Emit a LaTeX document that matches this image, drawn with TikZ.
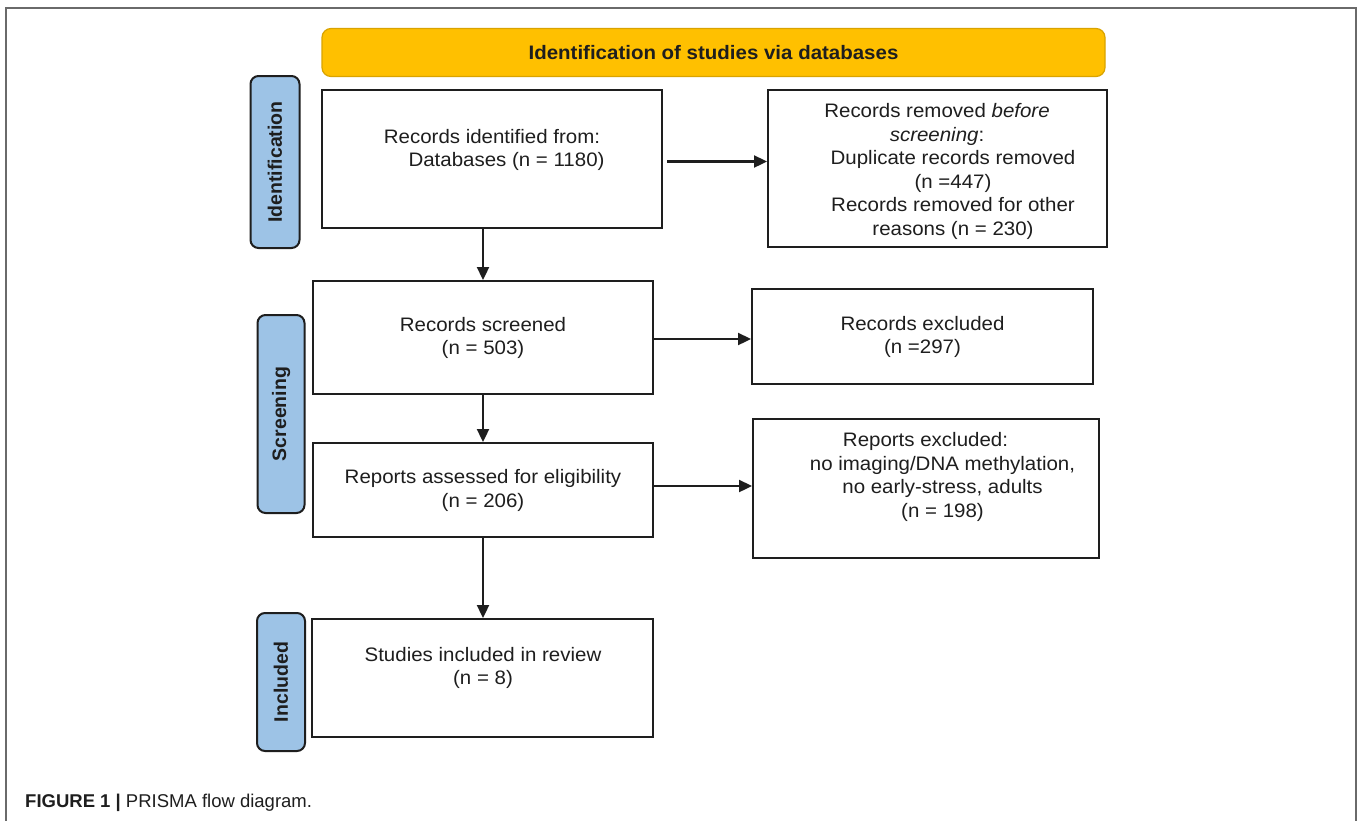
\documentclass[tikz,border=0pt]{standalone}
\usepackage{fontspec}
\setmainfont{Liberation Sans}
\newfontfamily\boxfont[FakeStretch=1.05]{Liberation Sans}
\newfontfamily\tagfont{Liberation Sans}
\usetikzlibrary{arrows.meta}
\definecolor{tagblue}{HTML}{9DC3E6}
\definecolor{headgold}{HTML}{FFC000}
\definecolor{headline}{HTML}{D9A300}
\definecolor{framegray}{HTML}{6A6A6A}
\definecolor{ink}{HTML}{1E1E1E}
\tikzset{
  boxtxt/.style={font=\boxfont\fontsize{19.5}{23.5}\selectfont, text=ink, align=center, inner sep=0pt},
  flowbox/.style={draw=ink, line width=2pt, fill=white, rectangle, inner sep=0pt},
  tagbox/.style={draw=ink, line width=2pt, fill=tagblue, rounded corners=8pt, rotate=90,
     font=\tagfont\bfseries\fontsize{19.5}{22}\selectfont, text=ink, inner sep=0pt},
  headbox/.style={draw=headline, line width=1.2pt, fill=headgold, rounded corners=9pt,
     font=\boxfont\bfseries\fontsize{19.5}{22}\selectfont, text=ink, inner sep=0pt},
  arr/.style={draw=ink, line width=2.3pt, -{Triangle[length=13pt,width=12pt]}}
}
\begin{document}
\begin{tikzpicture}[x=1pt,y=-1pt]
\useasboundingbox (0,0) rectangle (1360,820);
\fill[white] (0,0) rectangle (1360,820);
% outer frame
\draw[framegray, line width=1.3pt] (6,830) -- (6,8) -- (1356,8) -- (1356,830);

% header
\node[headbox, minimum width=783pt, minimum height=48pt] (hdr) at (713.5,52.5) {Identification of studies via databases};

% side tags
\node[tagbox, minimum width=172pt, minimum height=49pt] (tagid) at (275,162) {Identification};
\node[tagbox, minimum width=198pt, minimum height=47pt] (tagsc) at (281,414) {Screening};
\node[tagbox, minimum width=138pt, minimum height=48pt] (taginc) at (281,682) {Included};

% boxes
\node[flowbox, minimum width=340pt, minimum height=138pt] (b1) at (492,159) {};
\node[flowbox, minimum width=339pt, minimum height=157pt] (r1) at (937.5,168.5) {};
\node[flowbox, minimum width=340pt, minimum height=113pt] (b2) at (483,337.5) {};
\node[flowbox, minimum width=341pt, minimum height=95pt] (r2) at (922.5,336.5) {};
\node[flowbox, minimum width=340pt, minimum height=94pt] (b3) at (483,490) {};
\node[flowbox, minimum width=346pt, minimum height=139pt] (r3) at (926,488.5) {};
\node[flowbox, minimum width=341pt, minimum height=118pt] (b4) at (482.5,678) {};

% texts
\node[boxtxt] (t1) at (492,150) {Records identified from:\\\hspace*{29pt}Databases (n = 1180)};
\node[boxtxt] (tr1) at (945,171.5) {\hspace*{-16pt}Records removed \textit{before}\\\hspace*{-16pt}\textit{screening}:\\\hspace*{16pt}Duplicate records removed\\\hspace*{16pt}(n =447)\\\hspace*{16pt}Records removed for other\\\hspace*{16pt}reasons (n = 230)};
\node[boxtxt] (t2) at (483,338) {Records screened\\(n = 503)};
\node[boxtxt] (tr2) at (922.5,337) {Records excluded\\(n =297)};
\node[boxtxt] (t3) at (483,490.5) {Reports assessed for eligibility\\(n = 206)};
\node[boxtxt] (tr3) at (934,477) {\hspace*{-17pt}Reports excluded:\\\hspace*{17pt}no imaging/DNA methylation,\\\hspace*{17pt}no early-stress, adults\\\hspace*{17pt}(n = 198)};
\node[boxtxt] (t4) at (483,668) {Studies included in review\\(n = 8)};

% arrows
\draw[arr] ([xshift=4pt,yshift=-2.5pt]b1.east) -- ([yshift=-2.5pt]b1.east -| r1.west);
\draw[arr] ([yshift=-1.5pt]b2.east) -- ([yshift=-1.5pt]b2.east -| r2.west);
\draw[arr] ([yshift=4pt]b3.east) -- ([yshift=4pt]b3.east -| r3.west);
\draw[arr] (b1.south -| b2.north) -- (b2.north);
\draw[arr] (b2.south) -- (b3.north);
\draw[arr] (b3.south) -- (b3.south |- b4.north);

% caption
\node[anchor=base west, inner sep=0pt, font=\fontsize{18.5}{22}\selectfont, text=ink] (cap) at (25,807) {\textbf{FIGURE 1 |} PRISMA flow diagram.};
\end{tikzpicture}
\end{document}
